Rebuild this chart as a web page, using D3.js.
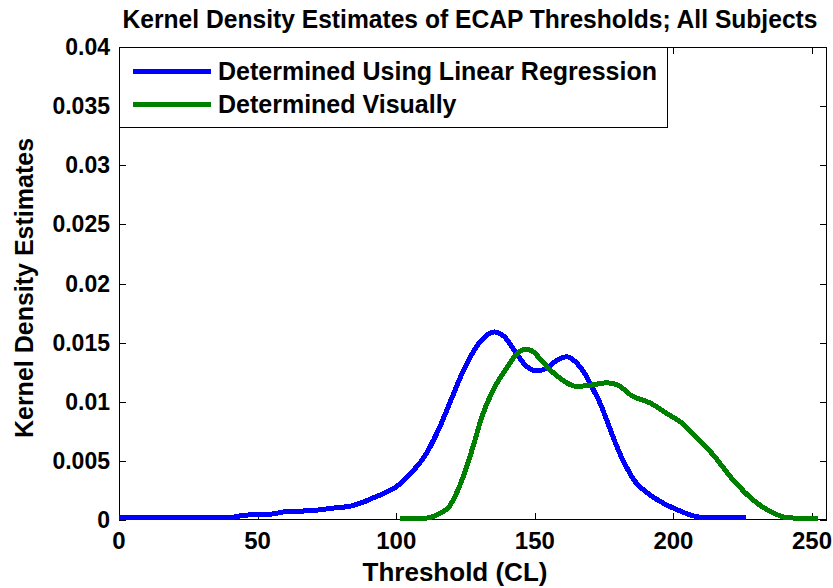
<!DOCTYPE html>
<html>
<head>
<meta charset="utf-8">
<script src="https://cdn.jsdelivr.net/npm/d3@7"></script>
<style>
  html, body { margin: 0; padding: 0; background: #fff; }
  svg text { font-family: "Liberation Sans", Arial, sans-serif; font-weight: bold; fill: #000; }
</style>
</head>
<body>
<svg id="chart" width="833" height="588"></svg>
<script>
// Kernel density estimate, thresholds found by linear regression
const regressionX = [0, 20, 40, 45, 55, 60, 70, 77, 84, 88, 92, 96, 100, 105, 110, 115, 119.5, 124, 128, 132, 135.5, 139, 143, 147, 150.5, 154, 158, 161.5, 165, 168, 170, 173.5, 176.5, 179.6, 183, 186, 190, 195, 202, 208, 212, 226];
const regressionY = [0.0002, 0.0002, 0.0002, 0.0004, 0.0005, 0.0007, 0.0008, 0.0010, 0.0012, 0.0015, 0.0019, 0.0023, 0.0028, 0.0039, 0.0053, 0.0075, 0.0100, 0.0125, 0.0143, 0.0155, 0.0159, 0.0155, 0.0142, 0.0130, 0.0126, 0.0128, 0.0135, 0.0138, 0.0133, 0.0124, 0.0115, 0.0099, 0.0081, 0.0062, 0.0045, 0.0033, 0.0024, 0.0016, 0.0008, 0.0003, 0.0002, 0.0002];

// Kernel density estimate, thresholds found visually
const visualX = [101.5, 108, 112, 116, 119, 122, 125, 127.7, 131, 135, 138, 140, 143, 146.5, 149, 152, 155.5, 158.5, 161.5, 165, 170, 176, 180, 185, 191.6, 197.7, 203, 207, 214, 221.5, 228.7, 236, 241, 252];
const visualY = [0.0001, 0.0001, 0.0002, 0.0006, 0.0011, 0.0024, 0.0042, 0.0062, 0.0088, 0.0110, 0.0122, 0.0129, 0.0139, 0.01446, 0.0143, 0.0136, 0.0127, 0.0121, 0.0116, 0.0113, 0.0114, 0.0116, 0.0114, 0.0105, 0.0099, 0.0090, 0.0082, 0.0073, 0.0056, 0.0034, 0.0017, 0.0006, 0.0002, 0.0001];

const xTicks = [0, 50, 100, 150, 200, 250];
const yTicks = [0, 0.005, 0.01, 0.015, 0.02, 0.025, 0.03, 0.035, 0.04];
const yTickLabels = ["0", "0.005", "0.01", "0.015", "0.02", "0.025", "0.03", "0.035", "0.04"];
const seriesNames = ["Determined Using Linear Regression", "Determined Visually"];
const seriesColors = ["#0000ff", "#008000"];

const svg = d3.select("#chart");
const plotL = 119, plotR = 827, plotT = 47, plotB = 520;

const x = d3.scaleLinear().domain([0, 255.4]).range([plotL, plotR]);
const y = d3.scaleLinear().domain([0, 0.04]).range([plotB, plotT]);

// plot background
svg.append("rect").attr("x", plotL).attr("y", plotT).attr("width", plotR - plotL).attr("height", plotB - plotT).attr("fill", "#fff");

const tickLen = 7;
const g = svg.append("g").attr("shape-rendering", "crispEdges");

// ticks on all four sides, pointing inward
xTicks.forEach(t => {
  const px = Math.round(x(t)) + 0.5;
  g.append("line").attr("x1", px).attr("x2", px).attr("y1", plotB).attr("y2", plotB - tickLen).attr("stroke", "#000");
  g.append("line").attr("x1", px).attr("x2", px).attr("y1", plotT).attr("y2", plotT + tickLen).attr("stroke", "#000");
});
yTicks.forEach(t => {
  const py = Math.round(y(t)) + 0.5;
  g.append("line").attr("x1", plotL).attr("x2", plotL + tickLen).attr("y1", py).attr("y2", py).attr("stroke", "#000");
  g.append("line").attr("x1", plotR).attr("x2", plotR - tickLen).attr("y1", py).attr("y2", py).attr("stroke", "#000");
});

// density curves, drawn without anti-aliasing
const series = [
  d3.zip(regressionX, regressionY),
  d3.zip(visualX, visualY)
];
const line = d3.line().x(d => x(d[0])).y(d => y(d[1])).curve(d3.curveMonotoneX);
series.forEach((s, i) => {
  svg.append("path").datum(s).attr("d", line)
    .attr("fill", "none").attr("stroke", seriesColors[i]).attr("stroke-width", 5)
    .attr("stroke-linejoin", "round").attr("stroke-linecap", "butt")
    .attr("shape-rendering", "crispEdges");
});

// axes box
g.append("rect").attr("x", plotL + 0.5).attr("y", plotT + 0.5).attr("width", plotR - plotL - 1).attr("height", plotB - plotT - 1)
  .attr("fill", "none").attr("stroke", "#000");

// tick labels
xTicks.forEach(t => {
  svg.append("text").attr("x", x(t)).attr("y", 549).attr("text-anchor", "middle").attr("font-size", 24).text(t);
});
yTicks.forEach((t, i) => {
  svg.append("text").attr("x", 110).attr("y", y(t) + 8).attr("text-anchor", "end").attr("font-size", 23).text(yTickLabels[i]);
});

// axis labels and title
svg.append("text").attr("x", 455).attr("y", 581).attr("text-anchor", "middle").attr("font-size", 26).text("Threshold (CL)");
svg.append("text").attr("transform", "translate(33,288) rotate(-90)").attr("text-anchor", "middle").attr("font-size", 25).text("Kernel Density Estimates");
svg.append("text").attr("x", 470).attr("y", 28).attr("text-anchor", "middle").attr("font-size", 25)
  .attr("textLength", 695).attr("lengthAdjust", "spacingAndGlyphs")
  .text("Kernel Density Estimates of ECAP Thresholds; All Subjects");

// legend
const lg = svg.append("g");
lg.append("rect").attr("x", plotL + 0.5).attr("y", plotT + 0.5).attr("width", 548).attr("height", 80)
  .attr("fill", "#fff").attr("stroke", "#000").attr("shape-rendering", "crispEdges");
seriesNames.forEach((name, i) => {
  const ly = 71 + i * 33;
  lg.append("line").attr("x1", 133).attr("x2", 211).attr("y1", ly).attr("y2", ly)
    .attr("stroke", seriesColors[i]).attr("stroke-width", 5).attr("shape-rendering", "crispEdges");
  lg.append("text").attr("x", 218).attr("y", ly + 9).attr("font-size", 25).text(name);
});
</script>
</body>
</html>
